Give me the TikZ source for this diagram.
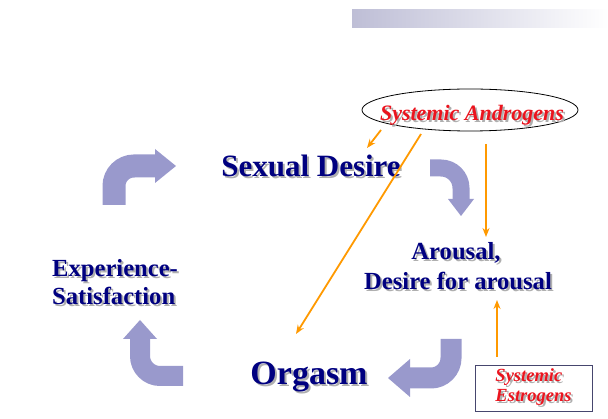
\documentclass[tikz,border=0pt]{standalone}
\usepackage{fontspec}
\setmainfont{Liberation Serif}
\usetikzlibrary{shapes.geometric,arrows.meta}
\definecolor{navy}{RGB}{0,0,128}
\definecolor{lav}{RGB}{153,153,204}
\definecolor{orng}{RGB}{255,153,0}
\definecolor{rtxt}{RGB}{235,20,30}
\definecolor{shad}{RGB}{175,175,175}
\definecolor{barc}{RGB}{190,190,214}
\definecolor{boxc}{RGB}{70,70,110}
\newcommand\shtext[1]{\leavevmode\rlap{\hspace{2pt}\raisebox{-2pt}{\textcolor{shad}{#1}}}#1}
\tikzset{
  lbl/.style={text=navy, inner sep=0pt, anchor=base},
  blk/.style={draw=lav, line width=#1, rounded corners=20pt},
  bhead/.style={fill=lav, draw=none},
  oarr/.style={draw=orng, line width=1.8pt, -{Stealth[length=9pt,width=7pt]}},
}
\begin{document}
\begin{tikzpicture}[x=1pt,y=-1pt]
\useasboundingbox (0,0) rectangle (608,419);
% top gradient bar
\shade[left color=barc, right color=white] (352,10) rectangle (608,28);

% labels
\node[lbl, font=\bfseries\fontsize{31}{36}\selectfont] (sd) at (311,177) {\shtext{Sexual Desire}};
\node[lbl, font=\bfseries\fontsize{34}{40}\selectfont] (org) at (309,385) {\shtext{Orgasm}};
\node[lbl, font=\bfseries\fontsize{24.6}{30}\selectfont] (ar1) at (456,260) {\shtext{Arousal,}};
\node[lbl, font=\bfseries\fontsize{24.6}{30}\selectfont] (ar2) at (458,290) {\shtext{Desire for arousal}};
\node[lbl, anchor=base west, font=\bfseries\fontsize{24.6}{30}\selectfont] (ex1) at (52,277) {\shtext{Experience-}};
\node[lbl, anchor=base west, font=\bfseries\fontsize{24.6}{30}\selectfont] (ex2) at (52,305) {\shtext{Satisfaction}};

% androgens ellipse
\node[ellipse, draw=black, line width=0.8pt, minimum width=216pt, minimum height=42pt, inner sep=0pt] (andro) at (470,110) {};
\node[text=rtxt, inner sep=0pt, anchor=base, font=\bfseries\itshape\fontsize{22}{26}\selectfont] (androtxt) at (472,121) {\shtext{Systemic Androgens}};

% estrogens box
\node[draw=boxc, line width=0.8pt, minimum width=117pt, minimum height=46pt, inner sep=0pt, text=rtxt, align=left, font=\bfseries\itshape\fontsize{18.5}{17}\selectfont] (estro) at (533.5,388) {\shtext{Systemic}\\\shtext{Estrogens}};

% blue block arrows
\draw[blk=23pt] (114,205) |- (156,166);
\fill[bhead] (155,149) -- (176,166) -- (155,183) -- cycle;

\draw[blk=17pt] (430,168) -| (461,200);
\fill[bhead] (448,199) -- (474,199) -- (461,216) -- cycle;

\draw[blk=21pt] (451,339) |- (409,378);
\fill[bhead] (410,359) -- (388,378) -- (410,397) -- cycle;

\draw[blk=20pt] (183,376) -| (140,338);
\fill[bhead] (123,339) -- (140,320) -- (157,339) -- cycle;

% orange arrows
\coordinate (a1s) at (381,130);
\coordinate (a1e) at (367,148);
\coordinate (a2s) at (421,134);
\coordinate (a2e) at (296,334);
\coordinate (a3s) at (486,144);
\coordinate (a3e) at (486,237);
\coordinate (a4s) at (497,357);
\coordinate (a4e) at (497,300);
\draw[oarr] (a1s) -- (a1e);
\draw[oarr] (a2s) -- (a2e);
\draw[oarr] (a3s) -- (a3e);
\draw[oarr] (a4s) -- (a4e);
\end{tikzpicture}
\end{document}
